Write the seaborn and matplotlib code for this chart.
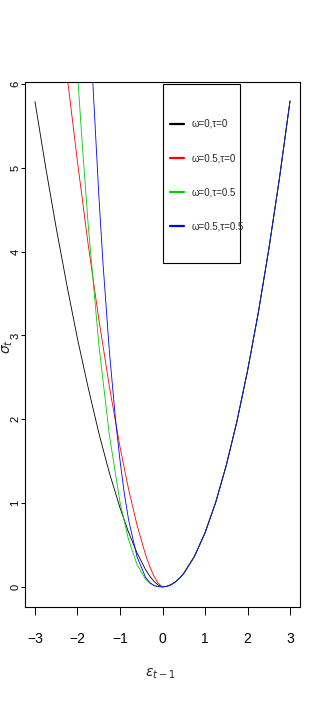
import numpy as np
import pandas as pd
import seaborn as sns
import matplotlib.pyplot as plt
from matplotlib.patches import Rectangle

# legend labels and line colours, in drawing order
series_names = ['ω=0,τ=0', 'ω=0.5,τ=0', 'ω=0,τ=0.5', 'ω=0.5,τ=0.5']
series_colors = ['black', 'red', '#00CD00', 'blue']

# left branch (eps_{t-1} < 0) of each curve
black_x = [-3.00, -2.75, -2.50, -2.25, -2.00, -1.75, -1.50, -1.25, -1.00, -0.80, -0.60,
           -0.40, -0.30, -0.20, -0.10, 0.0]
black_y = [5.79, 5.01, 4.28, 3.60, 2.96, 2.38, 1.84, 1.36, 0.944, 0.653, 0.406,
           0.208, 0.129, 0.066, 0.021, 0.0]

red_x = [-2.30, -2.25, -2.00, -1.75, -1.50, -1.25, -1.00, -0.80, -0.60, -0.40,
         -0.30, -0.20, -0.10, 0.0]
red_y = [6.34, 6.12, 5.07, 4.09, 3.20, 2.39, 1.67, 1.17, 0.739, 0.386,
         0.244, 0.127, 0.042, 0.0]

green_x = [-2.05, -2.00, -1.90, -1.75, -1.50, -1.25, -1.00, -0.80, -0.60, -0.40,
           -0.30, -0.20, -0.10, 0.0]
green_y = [6.54, 6.13, 5.37, 4.33, 2.90, 1.81, 1.01, 0.566, 0.268, 0.093,
           0.044, 0.015, 0.0025, 0.0]

blue_x = [-1.70, -1.65, -1.50, -1.40, -1.25, -1.10, -1.00, -0.90, -0.80, -0.60,
          -0.40, -0.30, -0.20, -0.10, 0.0]
blue_y = [6.65, 6.12, 4.69, 3.86, 2.81, 1.97, 1.51, 1.12, 0.806, 0.36,
          0.116, 0.052, 0.017, 0.0024, 0.0]

# right branch is the same for all four curves
right_x = [0.1, 0.2, 0.3, 0.4, 0.5, 0.75, 1.0, 1.25, 1.5, 1.75, 2.0, 2.25, 2.5, 2.75, 3.0]
right_y = [0.006, 0.026, 0.058, 0.103, 0.161, 0.362, 0.644, 1.006, 1.449, 1.972, 2.576,
           3.26, 4.025, 4.87, 5.796]

x_ticks = [-3, -2, -1, 0, 1, 2, 3]
y_ticks = [0, 1, 2, 3, 4, 5, 6]

left_branches = [(black_x, black_y), (red_x, red_y), (green_x, green_y), (blue_x, blue_y)]
frames = []
for name, (lx, ly) in zip(series_names, left_branches):
    frames.append(pd.DataFrame({'x': lx + right_x, 'y': ly + right_y, 'series': name}))
df = pd.concat(frames, ignore_index=True)

sns.set_style('ticks')
plt.rcParams['font.family'] = ['Liberation Sans Narrow', 'Liberation Sans', 'DejaVu Sans']

fig = plt.figure(figsize=(3.13, 7.09), dpi=100)
ax = fig.add_axes([25 / 313, 1 - 607 / 709, 275 / 313, (607 - 82.3) / 709])

sns.lineplot(data=df, x='x', y='y', hue='series', hue_order=series_names,
             palette=series_colors, estimator=None, sort=False, linewidth=0.6,
             legend=False, ax=ax)

ax.set_xlim(-3.235, 3.235)
ax.set_ylim(-0.24, 6.02)
ax.set_xticks(x_ticks)
ax.set_yticks(y_ticks)
ax.set_xlabel('')
ax.set_ylabel('')
for side in ['left', 'right', 'top', 'bottom']:
    ax.spines[side].set_visible(True)
    ax.spines[side].set_color('black')
    ax.spines[side].set_linewidth(0.8)
ax.tick_params(axis='x', length=5.8, width=0.7, pad=12, labelsize=10, colors='black')
ax.tick_params(axis='y', length=2.9, width=0.7, pad=0.5, labelsize=8, colors='black',
               labelrotation=90)
for lab in ax.get_yticklabels():
    lab.set_va('center')

# legend: line samples + labels, with an R-style box around it
handles = ax.get_lines()[:4]
leg = ax.legend(handles, series_names, loc='upper left', bbox_to_anchor=(0.498, 0.945),
                frameon=False, fontsize=7, handlelength=1.45, handletextpad=0.8,
                labelspacing=2.5, borderpad=0.3)
for line in leg.get_lines():
    line.set_linewidth(1.6)
ax.add_patch(Rectangle((0.502, 0.656), 0.28, 0.341, transform=ax.transAxes,
                       fill=False, edgecolor='black', linewidth=0.8, zorder=5))

fig.text(160 / 313, 1 - 674 / 709, r'$\varepsilon_{t-1}$', ha='center', va='center', fontsize=10)
fig.text(8 / 313, 1 - 347 / 709, r'$\sigma_t$', ha='center', va='center', fontsize=10,
         rotation=90)

fig.savefig('out.png', dpi=100)
